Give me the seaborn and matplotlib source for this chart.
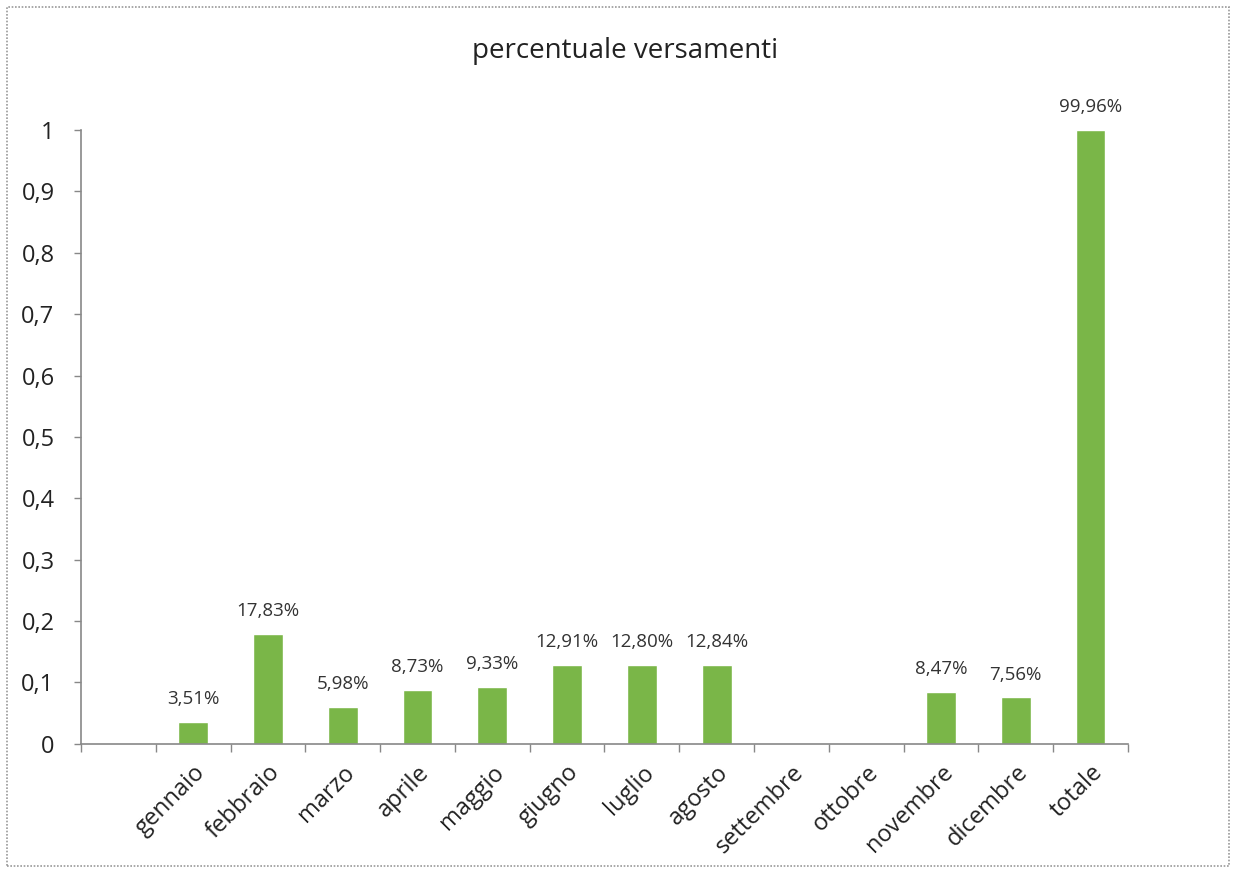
import numpy as np
import pandas as pd
import matplotlib
matplotlib.use("Agg")
import matplotlib.pyplot as plt
from matplotlib.ticker import FuncFormatter, FixedLocator, NullFormatter
from matplotlib.patches import Rectangle
import seaborn as sns

categories = ["gennaio", "febbraio", "marzo", "aprile", "maggio", "giugno",
              "luglio", "agosto", "settembre", "ottobre", "novembre",
              "dicembre", "totale"]
values = [0.0351, 0.1783, 0.0598, 0.0873, 0.0933, 0.1291, 0.1280, 0.1284,
          np.nan, np.nan, 0.0847, 0.0756, 0.9996]
yticks = [0, 0.1, 0.2, 0.3, 0.4, 0.5, 0.6, 0.7, 0.8, 0.9, 1.0]
title = "percentuale versamenti"

sns.set_theme(style="white")
plt.rcParams["font.family"] = ["Open Sans", "DejaVu Sans"]

df = pd.DataFrame({"mese": categories, "valore": values})

fig = plt.figure(figsize=(12.36, 8.73), dpi=100)
ax = fig.add_axes([0.0655, 0.148, 0.847, 0.703])

sns.barplot(data=df, x="mese", y="valore", order=categories,
            color="#7ab648", saturation=1, width=0.4, ax=ax)

# data labels
for i, v in enumerate(values):
    if not np.isnan(v):
        ax.annotate(f"{v*100:.2f}%".replace(".", ","), (i, v),
                    xytext=(0, 10), textcoords="offset points",
                    ha="center", va="bottom", fontsize=13.5, color="#333333")

ax.set_xlim(-1.5, len(categories) - 0.5)
ax.set_ylim(0, 1.0)
ax.set_yticks(yticks)
ax.yaxis.set_major_formatter(FuncFormatter(lambda v, p: f"{v:g}".replace(".", ",")))
ax.tick_params(axis="y", labelsize=17, colors="#888888", labelcolor="#222222",
               length=5, width=1, left=True, direction="out", pad=14)

ax.set_xticks(range(len(categories)))
ax.set_xticklabels(categories, rotation=45, ha="right", rotation_mode="anchor",
                   fontsize=17, color="#222222")
ax.tick_params(axis="x", which="major", length=0, pad=12)
ax.xaxis.set_minor_locator(FixedLocator(np.arange(-1.5, len(categories), 1.0)))
ax.xaxis.set_minor_formatter(NullFormatter())
ax.tick_params(axis="x", which="minor", length=6, width=1, colors="#888888",
               bottom=True, direction="out")

ax.set_xlabel("")
ax.set_ylabel("")
for side in ["top", "right"]:
    ax.spines[side].set_visible(False)
for side in ["left", "bottom"]:
    ax.spines[side].set_color("#888888")
    ax.spines[side].set_linewidth(1.2)

fig.text(0.506, 0.942, title, ha="center", va="center", fontsize=20, color="#222222")

fig.patches.append(Rectangle((0.006, 0.008), 0.988, 0.984, transform=fig.transFigure,
                             fill=False, edgecolor="#999999", linewidth=1.2,
                             linestyle=(0, (1, 1))))

fig.savefig("out.png", dpi=100)
